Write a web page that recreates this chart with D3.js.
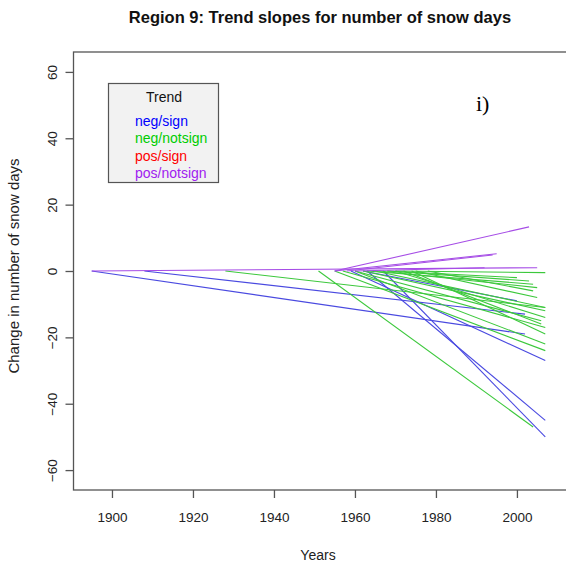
<!DOCTYPE html>
<html>
<head>
<meta charset="utf-8">
<script src="https://cdn.jsdelivr.net/npm/d3@7"></script>
<style>
  body { margin: 0; background: #fff; }
  text { font-family: "Liberation Sans", Arial, sans-serif; }
</style>
</head>
<body>
<div id="chart"></div>
<script>
// legend entries
const trendNames = ["neg/sign", "neg/notsign", "pos/sign", "pos/notsign"];
const trendColors = ["#0000ff", "#00cd00", "#ff0000", "#a020f0"];
const lineColors = ["#4a4ae0", "#3cc83c", "#e03030", "#a64de6"];

// one entry per station trend line: type, start year, end year, change at end
const lineType = [
  "neg/sign", "neg/sign", "neg/sign", "neg/sign", "neg/sign", "neg/sign",
  "neg/notsign", "neg/notsign", "neg/notsign", "neg/notsign", "neg/notsign",
  "neg/notsign", "neg/notsign", "neg/notsign", "neg/notsign", "neg/notsign",
  "neg/notsign", "neg/notsign", "neg/notsign", "neg/notsign", "neg/notsign",
  "neg/notsign", "neg/notsign", "neg/notsign",
  "pos/notsign", "pos/notsign", "pos/notsign", "pos/notsign", "pos/notsign"
];
const lineStart = [
  1895, 1908, 1959, 1963, 1967, 1962,
  1928, 1951, 1955, 1957, 1960, 1962, 1965, 1963, 1966, 1968,
  1970, 1970, 1972, 1974, 1960, 1975, 1978, 1968,
  1895, 1955, 1955, 1958, 1960
];
const lineEnd = [
  2002, 2002, 2007, 2007, 2007, 2000,
  2007, 2004, 2007, 2007, 2006, 2007, 2007, 2004, 2005, 2003,
  2007, 2007, 2006, 2007, 2007, 2005, 2004, 2000,
  2005, 2003, 1995, 1994, 1992
];
const lineChange = [
  -19, -13, -27, -45, -50, -9,
  -11, -47, -24, -17, -15, -12, -11, -4, -5, -3,
  -0.5, -14, -16, -19, -22, -8, -6, -2,
  1, 13.3, 5.2, 4.8, 1
];

const xTicks = [1900, 1920, 1940, 1960, 1980, 2000];
const yTicks = [-60, -40, -20, 0, 20, 40, 60];

const W = 566, H = 564;
const svg = d3.select("#chart").append("svg")
  .attr("width", W)
  .attr("height", H);

const x = d3.scaleLinear().domain([1890.5, 2011.5]).range([73.5, 563.5]);
const y = d3.scaleLinear().domain([-66, 66]).range([490, 52]);

// lines
const lines = lineType.map((t, i) => ({
  type: t, x0: lineStart[i], x1: lineEnd[i], v: lineChange[i]
}));

svg.append("g")
  .selectAll("line")
  .data(lines)
  .join("line")
  .attr("x1", d => x(d.x0))
  .attr("y1", y(0))
  .attr("x2", d => x(d.x1))
  .attr("y2", d => y(d.v))
  .style("stroke", d => lineColors[trendNames.indexOf(d.type)])
  .style("stroke-width", 1.1)
  .style("fill", "none");

// plot box (right side falls just outside the window, like the reference)
svg.append("rect")
  .attr("x", 73.5)
  .attr("y", 52)
  .attr("width", 500)
  .attr("height", 438)
  .style("fill", "none")
  .style("stroke", "#555")
  .style("stroke-width", 1.3);

// axes
const xAxis = svg.append("g")
  .attr("transform", `translate(0, 490)`)
  .call(d3.axisBottom(x).tickValues(xTicks).tickFormat(d3.format("d")).tickSize(8).tickPadding(14));
xAxis.select(".domain").remove();
xAxis.selectAll("line").style("stroke", "#555").style("stroke-width", 1.3);
xAxis.selectAll("text").style("font-size", "13.5px").style("fill", "#222");

const yAxis = svg.append("g")
  .attr("transform", `translate(73.5, 0)`)
  .call(d3.axisLeft(y).tickValues(yTicks).tickSize(8));
yAxis.select(".domain").remove();
yAxis.selectAll("line").style("stroke", "#555").style("stroke-width", 1.3);
yAxis.selectAll("text")
  .attr("transform", "rotate(-90, -21, 0)")
  .attr("x", -21)
  .attr("y", 0)
  .attr("dy", "0.35em")
  .attr("text-anchor", "middle")
  .style("font-size", "13.5px")
  .style("fill", "#222");

// titles
svg.append("text")
  .attr("x", 320)
  .attr("y", 23)
  .attr("text-anchor", "middle")
  .style("font-size", "16.5px")
  .style("font-weight", "bold")
  .style("fill", "#111")
  .text("Region 9: Trend slopes for number of snow days");

svg.append("text")
  .attr("x", 318)
  .attr("y", 560)
  .attr("text-anchor", "middle")
  .style("font-size", "14px")
  .style("fill", "#222")
  .text("Years");

svg.append("text")
  .attr("transform", "translate(19, 266) rotate(-90)")
  .attr("text-anchor", "middle")
  .style("font-size", "15px")
  .style("fill", "#222")
  .text("Change in number of snow days");

svg.append("text")
  .attr("x", 476)
  .attr("y", 111)
  .style("font-family", "'Liberation Serif', 'Times New Roman', serif")
  .style("font-size", "22px")
  .style("fill", "#000")
  .text("i)");

// legend
const legend = svg.append("g");
legend.append("rect")
  .attr("x", 108.5)
  .attr("y", 83.5)
  .attr("width", 110)
  .attr("height", 99)
  .style("fill", "#f2f2f2")
  .style("stroke", "#555")
  .style("stroke-width", 1.2);

legend.append("text")
  .attr("x", 164)
  .attr("y", 102)
  .attr("text-anchor", "middle")
  .style("font-size", "14px")
  .style("fill", "#111")
  .text("Trend");

legend.selectAll("text.item")
  .data(trendNames)
  .join("text")
  .attr("class", "item")
  .attr("x", 135)
  .attr("y", (d, i) => 126 + i * 17.3)
  .style("font-size", "14px")
  .style("fill", (d, i) => trendColors[i])
  .text(d => d);
</script>
</body>
</html>
